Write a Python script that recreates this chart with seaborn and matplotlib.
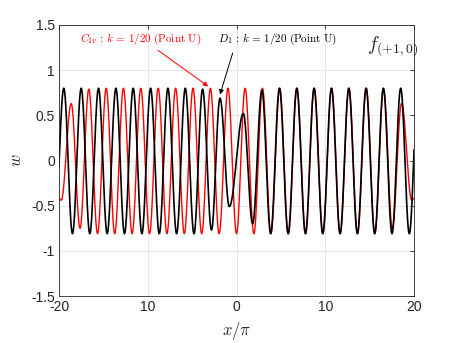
import matplotlib

matplotlib.use("Agg")
import matplotlib.pyplot as plt
import numpy as np
import pandas as pd
import seaborn as sns

# extrema of each wave, as (x/pi, w);
# the first/last entries may sit just outside the plotted range
black_x = [-20.50, -19.46, -18.48, -17.50, -16.53, -15.55, -14.57, -13.59, -12.62,
           -11.64, -10.66, -9.68, -8.70, -7.73, -6.75, -5.77, -4.79, -3.82, -2.82,
           -1.86, -0.81, 0.77, 1.82, 2.86, 3.85, 4.84, 5.82, 6.79, 7.77, 8.74, 9.72,
           10.70, 11.67, 12.65, 13.62, 14.60, 15.57, 16.55, 17.52, 18.50, 19.47, 20.45]
black_w = [-0.81, 0.80, -0.81, 0.80, -0.81, 0.80, -0.81, 0.80, -0.81,
           0.80, -0.81, 0.80, -0.81, 0.80, -0.81, 0.80, -0.81, 0.79, -0.77,
           0.69, -0.51, 0.52, -0.70, 0.78, -0.81, 0.80, -0.81, 0.80, -0.81, 0.80, -0.81,
           0.80, -0.81, 0.80, -0.81, 0.80, -0.81, 0.80, -0.81, 0.80, -0.81, 0.80]

red_x = [-20.00, -19.75, -18.62, -17.63, -16.64, -15.66, -14.68, -13.72, -12.74,
         -11.76, -10.78, -9.80, -8.82, -7.84, -6.86, -5.88, -4.90, -3.92, -2.94,
         -1.96, -0.96, 0.00, 0.97, 1.96, 2.93, 3.88, 4.87, 5.84, 6.81, 7.78, 8.76,
         9.73, 10.72, 11.69, 12.67, 13.64, 14.62, 15.59, 16.57, 17.56, 18.60, 19.75, 20.00]
red_w = [-0.42, -0.44, 0.63, -0.75, 0.79, -0.81, 0.80, -0.81, 0.80,
         -0.81, 0.80, -0.81, 0.80, -0.81, 0.80, -0.81, 0.80, -0.81, 0.80,
         -0.81, 0.80, -0.81, 0.80, -0.81, 0.80, -0.81, 0.80, -0.81, 0.80, -0.81, 0.80,
         -0.81, 0.80, -0.81, 0.80, -0.81, 0.80, -0.81, 0.79, -0.75, 0.63, -0.44, -0.42]

x_ticks = [-20, -10, 0, 10, 20]
x_ticklabels = ["-20", "10", "0", "10", "20"]
y_ticks = [-1.5, -1, -0.5, 0, 0.5, 1, 1.5]
y_ticklabels = ["-1.5", "-1", "-0.5", "0", "0.5", "1", "1.5"]

red_label = r"$C_{1v}\,:\,k\,=\,1/20\ \mathrm{(Point\ U)}$"
black_label = r"$D_1\,:\,k\,=\,1/20\ \mathrm{(Point\ U)}$"
corner_label = r"$f_{(+1,0)}$"


def smooth_through(xs, ws, n=40):
    """Join consecutive extrema with half-cosine arcs so the wave reads smooth."""
    out_x, out_w = [], []
    for x0, w0, x1, w1 in zip(xs[:-1], ws[:-1], xs[1:], ws[1:]):
        s = np.linspace(0, 1, n, endpoint=False)
        out_x.append(x0 + (x1 - x0) * s)
        out_w.append(w0 + (w1 - w0) * (1 - np.cos(np.pi * s)) / 2)
    out_x.append([xs[-1]])
    out_w.append([ws[-1]])
    return np.concatenate(out_x), np.concatenate(out_w)


sns.set_style("white")
plt.rcParams["font.family"] = ["Liberation Sans", "DejaVu Sans"]
plt.rcParams["mathtext.fontset"] = "cm"

rx, rw = smooth_through(red_x, red_w)
bx, bw = smooth_through(black_x, black_w)
red_df = pd.DataFrame({"x": rx, "w": rw})
black_df = pd.DataFrame({"x": bx, "w": bw})

fig = plt.figure(figsize=(4.57, 3.43), dpi=100)
ax = fig.add_axes([59 / 457, 47 / 343, 355 / 457, 271 / 343])

sns.lineplot(data=red_df, x="x", y="w", color="#ff0000", lw=1.0,
             sort=False, estimator=None, ax=ax)
sns.lineplot(data=black_df, x="x", y="w", color="black", lw=1.2,
             sort=False, estimator=None, ax=ax)

ax.set_xlim(-20, 20)
ax.set_ylim(-1.5, 1.5)
ax.set_xticks(x_ticks)
ax.set_xticklabels(x_ticklabels)
ax.set_yticks(y_ticks)
ax.set_yticklabels(y_ticklabels)
ax.tick_params(direction="in", length=3, width=0.6, labelsize=10, pad=3,
               colors="#262626", top=True, right=True)
ax.grid(True, color="#e3e3e3", lw=0.6)
for sp in ax.spines.values():
    sp.set_color("#262626")
    sp.set_linewidth(0.6)

ax.set_xlabel(r"$x/\pi$", fontsize=12, labelpad=4)
ax.set_ylabel(r"$w$", fontsize=12, labelpad=5)

# labels and their arrows
ax.text(-17.63, 1.34, red_label, color="#ff0000", fontsize=8, ha="left", va="center")
ax.text(-2.08, 1.34, black_label, color="black", fontsize=8, ha="left", va="center")
ax.annotate("", xy=(-3.18, 0.82), xytext=(-8.85, 1.22),
            arrowprops=dict(arrowstyle="-|>", color="#ff0000", lw=0.7,
                            mutation_scale=7, shrinkA=0, shrinkB=0))
ax.annotate("", xy=(-1.86, 0.73), xytext=(-0.43, 1.19),
            arrowprops=dict(arrowstyle="-|>", color="black", lw=0.7,
                            mutation_scale=7, shrinkA=0, shrinkB=0))
ax.text(14.7, 1.27, corner_label, fontsize=14, ha="left", va="center")

fig.savefig("out.png", dpi=100)
plt.close(fig)
